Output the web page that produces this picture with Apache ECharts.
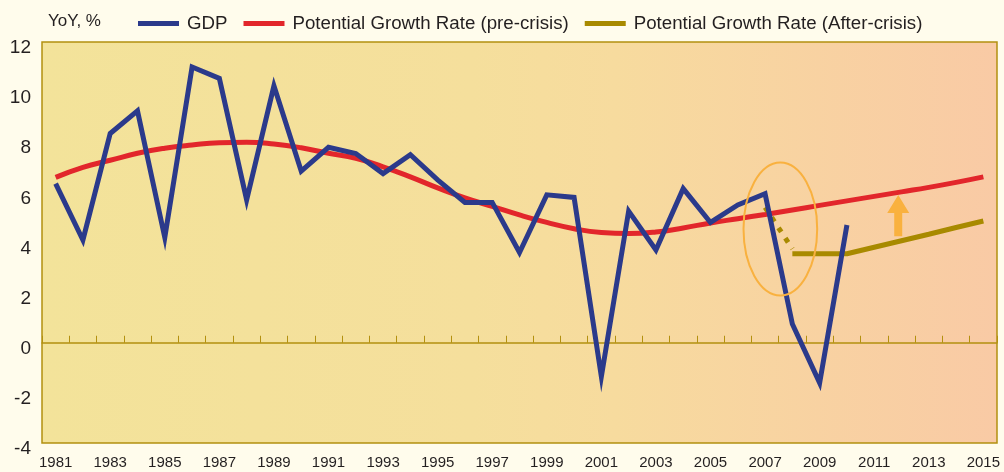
<!DOCTYPE html>
<html>
<head>
<meta charset="utf-8">
<title>GDP vs potential growth rate</title>
<script src="https://cdn.jsdelivr.net/npm/echarts@6/dist/echarts.min.js"></script>
<style>
  html, body { margin: 0; padding: 0; background: #fffcec; }
  #chart { width: 1004px; height: 472px; }
</style>
</head>
<body>
<div id="chart"></div>
<script>
const years = ['1981', '1982', '1983', '1984', '1985', '1986', '1987', '1988', '1989', '1990',
  '1991', '1992', '1993', '1994', '1995', '1996', '1997', '1998', '1999', '2000',
  '2001', '2002', '2003', '2004', '2005', '2006', '2007', '2008', '2009', '2010',
  '2011', '2012', '2013', '2014', '2015']

// GDP, YoY %
const gdp = [6.35, 4.1, 8.35, 9.25, 4.2, 11.0, 10.55, 5.7, 10.25, 6.85,
  7.8, 7.55, 6.75, 7.5, 6.5, 5.6, 5.6, 3.6, 5.9, 5.8,
  -1.35, 5.25, 3.7, 6.15, 4.8, 5.5, 5.95, 0.75, -1.6, 4.7,
  null, null, null, null, null]

// potential growth rate before the crisis
const potentialPre = [6.6, 7.0, 7.28, 7.56, 7.76, 7.89, 7.98, 8.0, 7.93, 7.78,
  7.56, 7.36, 7.02, 6.62, 6.18, 5.78, 5.44, 5.1, 4.8, 4.55,
  4.4, 4.36, 4.42, 4.58, 4.78, 4.95, 5.12, 5.3, 5.48, 5.66,
  5.84, 6.02, 6.2, 6.4, 6.62]

// potential growth rate after the crisis
const potentialAfter = [null, null, null, null, null, null, null, null, null, null,
  null, null, null, null, null, null, null, null, null, null,
  null, null, null, null, null, null, null, 3.55, 3.55, 3.55,
  3.81, 4.07, 4.33, 4.6, 4.86]

// dotted drop from pre-crisis path to the new one
const crisisDrop = [null, null, null, null, null, null, null, null, null, null,
  null, null, null, null, null, null, null, null, null, null,
  null, null, null, null, null, null, 5.4, 3.75, null, null,
  null, null, null, null, null]

const yMin = -4
const yMax = 12
const yStep = 2

const chart = echarts.init(document.getElementById('chart'))

const option = {
  animation: false,
  backgroundColor: '#fffcec',
  title: {
    text: 'YoY, %',
    left: 43,
    top: 8,
    textStyle: { fontSize: 17, fontWeight: 'normal', color: '#231f20', fontFamily: 'Liberation Sans' }
  },
  legend: {
    data: ['GDP', 'Potential Growth Rate (pre-crisis)', 'Potential Growth Rate (After-crisis)'],
    left: 133,
    top: 9,
    icon: 'rect',
    itemWidth: 41,
    itemHeight: 5,
    itemGap: 16,
    textStyle: { fontSize: 18.7, color: '#231f20', fontFamily: 'Liberation Sans', padding: [0, 0, 0, 3] }
  },
  grid: {
    left: 42,
    right: 7,
    top: 42,
    bottom: 29,
    show: true,
    borderColor: '#b3900f',
    borderWidth: 1.5,
    backgroundColor: new echarts.graphic.LinearGradient(0, 0, 1, 0, [
      { offset: 0, color: '#f3e39a' },
      { offset: 0.45, color: '#f5df9c' },
      { offset: 0.6, color: '#f7db9e' },
      { offset: 1, color: '#f9caa5' }
    ])
  },
  xAxis: [
    {
      type: 'category',
      data: years,
      boundaryGap: true,
      axisLine: { show: false, onZero: false },
      axisTick: { show: false },
      axisLabel: {
        interval: 1,
        margin: 12,
        fontSize: 15,
        color: '#231f20',
        fontFamily: 'Liberation Sans'
      },
      splitLine: { show: false }
    },
    {
      type: 'category',
      data: years,
      boundaryGap: true,
      position: 'top',
      axisLine: { show: true, onZero: true, lineStyle: { color: '#b3900f', width: 1.5 } },
      axisTick: { show: true, interval: 0, inside: false, length: 7, lineStyle: { color: '#b3900f', width: 1 } },
      axisLabel: { show: false },
      splitLine: { show: false }
    }
  ],
  yAxis: {
    type: 'value',
    min: yMin,
    max: yMax,
    interval: yStep,
    axisLine: { show: false },
    axisTick: { show: false },
    splitLine: { show: false },
    axisLabel: {
      margin: 11,
      fontSize: 19,
      color: '#231f20',
      fontFamily: 'Liberation Sans',
      verticalAlign: 'top',
      lineHeight: 12
    }
  },
  series: [
    {
      name: 'Potential Growth Rate (pre-crisis)',
      type: 'line',
      data: potentialPre,
      smooth: true,
      symbol: 'none',
      itemStyle: { color: '#e2262b' },
      lineStyle: { color: '#e2262b', width: 5 },
      z: 2
    },
    {
      name: 'Potential Growth Rate (After-crisis)',
      type: 'line',
      data: potentialAfter,
      symbol: 'none',
      itemStyle: { color: '#a88a00' },
      lineStyle: { color: '#a88a00', width: 5 },
      z: 3
    },
    {
      name: 'drop',
      type: 'line',
      data: crisisDrop,
      symbol: 'none',
      lineStyle: { color: '#a88a00', width: 5, type: [5, 7.4], dashOffset: 0.4, cap: 'butt' },
      z: 3
    },
    {
      name: 'GDP',
      type: 'line',
      data: gdp,
      symbol: 'none',
      itemStyle: { color: '#2b3a8b' },
      lineStyle: { color: '#2b3a8b', width: 5, join: 'miter' },
      z: 4
    },
    {
      name: 'marks',
      type: 'custom',
      silent: true,
      clip: false,
      data: [[26, 4.54]],
      z: 5,
      renderItem: function (params, api) {
        const a = api.coord([api.value(0), api.value(1)])
        const b = api.coord([api.value(0) + 1, api.value(1)])
        const step = b[0] - a[0]
        const unit = api.coord([0, 0])[1] - api.coord([0, 1])[1]
        const oval = {
          type: 'ellipse',
          shape: { cx: a[0] + 0.56 * step, cy: a[1], rx: 1.35 * step, ry: 2.65 * unit },
          style: { fill: null, stroke: '#f9b13f', lineWidth: 2 }
        }
        // arrow near 2012, from the after-crisis path toward the pre-crisis one
        const tip = api.coord([31, 5.9])
        const base = api.coord([31, 4.25])
        const x = tip[0] - 0.12 * step
        const neck = tip[1] + 18
        const arrow = {
          type: 'polygon',
          shape: {
            points: [
              [x, tip[1]], [x + 11, neck], [x + 4, neck], [x + 4, base[1]],
              [x - 4, base[1]], [x - 4, neck], [x - 11, neck]
            ]
          },
          style: { fill: '#f9b13f' }
        }
        return { type: 'group', children: [oval, arrow] }
      }
    }
  ]
}

chart.setOption(option)
</script>
</body>
</html>
